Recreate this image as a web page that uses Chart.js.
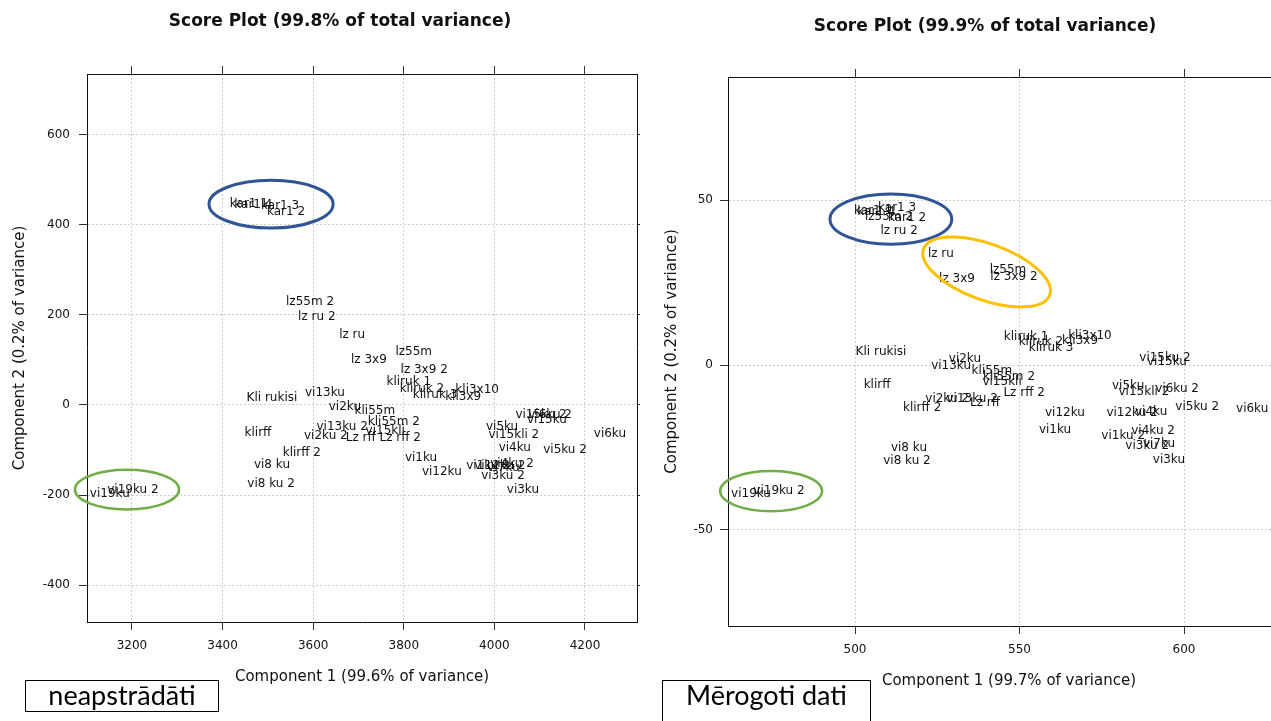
<!DOCTYPE html>
<html><head><meta charset="utf-8">
<script src="https://cdn.jsdelivr.net/npm/chart.js@4.4.1/dist/chart.umd.min.js"></script>
<style>
html,body{margin:0;padding:0;background:#fff;}
body{width:1271px;height:721px;position:relative;overflow:hidden;}
.panel{position:absolute;top:0;height:721px;overflow:hidden;}
.tag{position:absolute;border:1px solid #000;background:#fff;font-family:Lato,'Noto Sans',sans-serif;font-size:27px;color:#000;text-align:center;box-sizing:border-box;}
</style></head><body>
<div class="panel" style="left:0;width:640px"><canvas id="c1" width="680" height="721"></canvas></div>
<div class="panel" style="left:640px;width:631px"><canvas id="c2" width="690" height="721"></canvas></div>
<div class="tag" style="left:25px;top:680px;width:194px;height:32px;line-height:28px">neapstrādāti</div>
<div class="tag" style="left:662px;top:680px;width:209px;height:50px;line-height:28px;padding-top:0px">Mērogoti dati</div>
<script>
// ---- data ----
const sampleNames = ["kar1 1","kar1 4","kar1 3","kar1 2","lz55m 2","lz ru 2","lz ru","lz 3x9","lz55m","lz 3x9 2",
  "kliruk 1","kliruk 2","kliruk 3","kli3x9","kli3x10","Kli rukisi","vi13ku","vi2ku","kli55m","kli55m 2",
  "vi13ku 2","vi15kli","vi2ku 2","Lz rff","Lz rff 2","klirff","klirff 2","vi8 ku","vi8 ku 2","vi1ku",
  "vi12ku","vi5ku","vi15kli 2","vi4ku","vi5ku 2","vi6ku","vi15ku 2","vi6ku 2","vi15ku","vi1ku 2",
  "vi12ku 2","vi4ku 2","vi7ku","vi3ku 2","vi3ku","vi19ku","vi19ku 2"];

// raw data panel (neapstrādāti)
const rawComp1 = [3458,3468,3527,3540,3593,3608,3686,3723,3822,3845,
  3811,3840,3869,3931,3962,3509,3626,3670,3736,3778,
  3664,3759,3628,3705,3792,3478,3575,3509,3507,3838,
  3884,4017,4043,4045,4156,4255,4103,4123,4116,3986,
  4012,4039,4020,4019,4063,3151,3202];
const rawComp2 = [447,445,443,428,228,195,155,100,118,78,
  51,35,22,18,33,16,27,-4,-13,-38,
  -48,-57,-68,-74,-74,-61,-107,-134,-175,-118,
  -149,-49,-67,-96,-100,-65,-22,-22,-33,-135,
  -135,-131,-140,-157,-188,-197,-188];

// scaled data panel (Mērogoti dati)
const scaledComp1 = [505.5,506.5,512.8,515.8,510.3,513.4,526.1,531.0,546.5,548.3,
  552.0,556.5,559.6,568.4,571.4,507.9,529.2,533.4,541.6,546.8,
  535.6,544.7,528.0,539.5,551.4,506.7,520.4,516.4,515.8,560.8,
  563.8,583.0,587.8,590.0,604.0,620.7,594.2,597.9,594.8,581.5,
  584.2,590.6,592.4,588.8,595.4,468.4,476.9];
const scaledComp2 = [46.7,46.5,47.5,44.5,44.8,40.6,33.6,26.1,28.8,26.7,
  8.5,7.0,5.2,7.3,8.8,3.9,-0.3,1.8,-1.8,-3.6,
  -10.3,-5.2,-10.3,-11.5,-8.5,-6.1,-13.1,-25.2,-29.1,-19.7,
  -14.6,-6.4,-8.2,-14.2,-12.7,-13.3,2.1,-7.3,0.9,-21.5,
  -14.5,-20.0,-24.0,-24.5,-28.8,-39.1,-38.2];

const rawXTicks = [3200,3400,3600,3800,4000,4200];
const rawYTicks = [-400,-200,0,200,400,600];
const scaledXTicks = [500,550,600];
const scaledYTicks = [-50,0,50];

// ---- annotations (ellipses in data units) ----
const BLUE='#2F5597', GREEN='#70AD47', YELLOW='#FFC000';
const rawEllipses = [
  {cx:3507, cy:446, rx:137, ry:53, rot:0, color:BLUE, w:3},
  {cx:3189, cy:-188, rx:115, ry:44, rot:0, color:GREEN, w:2.5}
];
const scaledEllipses = [
  {cx:510.9, cy:44.2, rx:18.5, ry:7.6, rot:0, color:BLUE, w:3},
  {cx:540.0, cy:28.2, rx:20.4, ry:8.5, rot:20, color:YELLOW, w:3},
  {cx:474.5, cy:-38.2, rx:15.5, ry:6.1, rot:0, color:GREEN, w:2.5}
];

const FONT = 'DejaVu Sans';

function makePanel(canvasId, g){
  const pts = sampleNames.map((n,i)=>({x:g.xs[i], y:g.ys[i]}));
  const setTicks = vals => (axis => { axis.ticks = vals.map(v=>({value:v})); });
  const labelPlugin = {
    id:'sampleLabels',
    afterDatasetsDraw(chart){
      const meta = chart.getDatasetMeta(0), ctx = chart.ctx;
      ctx.save();
      ctx.font = '12px "'+FONT+'"';
      ctx.fillStyle = '#111';
      ctx.textAlign='center'; ctx.textBaseline='middle';
      meta.data.forEach((el,i)=>ctx.fillText(sampleNames[i], el.x, el.y));
      ctx.restore();
    }
  };
  const ellipsePlugin = {
    id:'ellipses',
    afterDraw(chart){
      const ctx = chart.ctx, sx = chart.scales.x, sy = chart.scales.y;
      g.ellipses.forEach(e=>{
        const px = sx.getPixelForValue(e.cx), py = sy.getPixelForValue(e.cy);
        const rxp = Math.abs(sx.getPixelForValue(e.cx+e.rx)-px);
        const ryp = Math.abs(sy.getPixelForValue(e.cy+e.ry)-py);
        ctx.save();
        ctx.strokeStyle = e.color; ctx.lineWidth = e.w;
        ctx.beginPath();
        ctx.ellipse(px, py, rxp, ryp, e.rot*Math.PI/180, 0, Math.PI*2);
        ctx.stroke();
        ctx.restore();
      });
    }
  };
  const tickFont = {family:FONT, size:12};
  const titleFont = {family:FONT, size:15};
  const mainGrid = {color:'#cfcfcf', lineWidth:1, tickLength:8, tickColor:'#333', drawTicks:true};
  const sideGrid = {drawOnChartArea:false, tickLength:8, tickColor:'#333', drawTicks:true};
  const border = {display:true, color:'#111', width:1, dash:[2,2]};
  return new Chart(document.getElementById(canvasId), {
    type:'scatter',
    data:{datasets:[{data:pts, pointRadius:0, pointHoverRadius:0, showLine:false}]},
    options:{
      responsive:false, animation:false, devicePixelRatio:1, events:[],
      layout:{padding:{top:0,left:0,right:0,bottom:g.padBottom}},
      plugins:{
        legend:{display:false}, tooltip:{enabled:false},
        title:{display:true, text:g.title, color:'#111',
          font:{family:FONT, size:17, weight:'bold'},
          padding:{top:g.titleTop, bottom:g.titleBottom}}
      },
      scales:{
        x:{type:'linear', position:'bottom', min:g.xmin, max:g.xmax,
          afterBuildTicks:setTicks(g.xticks), afterFit:a=>{a.height=g.xH;},
          ticks:{font:tickFont, color:'#111', padding:9, maxRotation:0, callback:v=>String(v)},
          grid:mainGrid, border:border,
          title:{display:true, text:'Component 1 ('+g.v1+'% of variance)', color:'#111', font:titleFont, padding:{top:0,bottom:g.xTitlePad}}},
        y:{type:'linear', position:'left', min:g.ymin, max:g.ymax,
          afterBuildTicks:setTicks(g.yticks), afterFit:a=>{a.width=g.yW;},
          ticks:{font:tickFont, color:'#111', padding:g.yTickPad, callback:v=>String(v)},
          grid:mainGrid, border:border,
          title:{display:true, text:'Component 2 ('+g.v2+'% of variance)', color:'#111', font:titleFont, padding:{top:g.yTitlePad,bottom:0}}},
        x2:{type:'linear', position:'top', min:g.xmin, max:g.xmax,
          afterBuildTicks:setTicks(g.xticks), afterFit:a=>{a.height=8;},
          ticks:{display:false}, grid:sideGrid, border:{display:true,color:'#111',width:1}},
        y2:{type:'linear', position:'right', min:g.ymin, max:g.ymax,
          afterBuildTicks:setTicks(g.yticks), afterFit:a=>{a.width=g.y2W;},
          ticks:{display:false}, grid:sideGrid, border:{display:true,color:'#111',width:1}}
      }
    },
    plugins:[labelPlugin, ellipsePlugin]
  });
}

makePanel('c1', {
  xs:rawComp1, ys:rawComp2, xticks:rawXTicks, yticks:rawYTicks, ellipses:rawEllipses,
  title:'Score Plot (99.8% of total variance)', v1:'99.6', v2:'0.2',
  xmin:3100.7, xmax:4314.8, ymin:-482, ymax:735,
  padBottom:29, titleTop:11.8, titleBottom:33.8, xH:70, xTitlePad:6,
  yW:87, y2W:43, yTitlePad:11, yTickPad:9
});
makePanel('c2', {
  xs:scaledComp1, ys:scaledComp2, xticks:scaledXTicks, yticks:scaledYTicks, ellipses:scaledEllipses,
  title:'Score Plot (99.9% of total variance)', v1:'99.7', v2:'0.2',
  xmin:461.4, xmax:632.2, ymin:-79.1, ymax:87.3,
  padBottom:30, titleTop:16.8, titleBottom:31.8, xH:65, xTitlePad:1,
  yW:88, y2W:40, yTitlePad:23, yTickPad:7
});
</script>
</body></html>
